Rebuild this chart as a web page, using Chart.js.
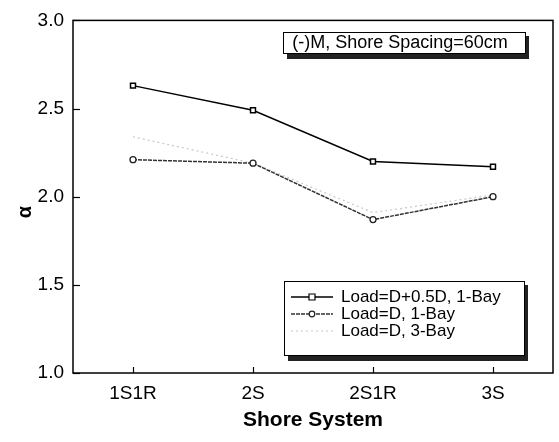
<!DOCTYPE html>
<html>
<head>
<meta charset="utf-8">
<script src="https://cdn.jsdelivr.net/npm/chart.js@4/dist/chart.umd.min.js"></script>
<style>
  html, body { margin: 0; padding: 0; background: #fff; }
  #wrap { width: 559px; height: 442px; }
</style>
</head>
<body>
<div id="wrap"><canvas id="alphaChart"></canvas></div>
<script>
// shore systems on the x axis, alpha values per load case
const shoreSystems = ["1S1R", "2S", "2S1R", "3S"];
const loadD05D1Bay = [2.63, 2.49, 2.20, 2.17];
const loadD1Bay = [2.21, 2.19, 1.87, 2.00];
const loadD3Bay = [2.34, 2.19, 1.91, 2.01];
const yTicks = [1.0, 1.5, 2.0, 2.5, 3.0];
const seriesLabels = ["Load=D+0.5D, 1-Bay", "Load=D, 1-Bay", "Load=D, 3-Bay"];
const noteText = "(-)M, Shore Spacing=60cm";

const FONT = "'Liberation Sans', Arial, sans-serif";

// frame, inward ticks, alpha label, note box and legend box
const decorPlugin = {
  id: "decor",
  afterDraw(chart) {
    const ctx = chart.ctx;
    const a = chart.chartArea;
    const xs = chart.scales.x, ys = chart.scales.y;
    ctx.save();
    ctx.strokeStyle = "#000";
    ctx.lineWidth = 1.5;
    ctx.strokeRect(a.left, a.top, a.right - a.left, a.bottom - a.top);

    ctx.lineWidth = 1.2;
    yTicks.forEach(v => {
      const y = Math.round(ys.getPixelForValue(v)) + 0.5;
      ctx.beginPath(); ctx.moveTo(a.left, y); ctx.lineTo(a.left + 7, y); ctx.stroke();
    });
    shoreSystems.forEach((s, i) => {
      const x = Math.round(xs.getPixelForValue(i)) + 0.5;
      ctx.beginPath(); ctx.moveTo(x, a.bottom); ctx.lineTo(x, a.bottom - 6); ctx.stroke();
    });

    // y axis symbol
    ctx.save();
    ctx.translate(25, 212);
    ctx.rotate(-Math.PI / 2);
    ctx.fillStyle = "#000";
    ctx.font = "bold 20px " + FONT;
    ctx.textAlign = "center";
    ctx.textBaseline = "middle";
    ctx.fillText("α", 0, 0);
    ctx.restore();

    // note box with drop shadow
    drawBox(ctx, 283, 32, 242, 21);
    ctx.fillStyle = "#000";
    ctx.font = "18px " + FONT;
    ctx.textAlign = "center";
    ctx.textBaseline = "middle";
    ctx.fillText(noteText, 400, 43);

    // legend box
    drawBox(ctx, 284, 281, 240, 74);
    const rows = [297, 314, 331];
    chart.data.datasets.forEach((ds, i) => {
      const y = rows[i];
      ctx.strokeStyle = ds.borderColor;
      ctx.lineWidth = ds.borderWidth;
      ctx.setLineDash(ds.borderDash || []);
      ctx.beginPath(); ctx.moveTo(291, y); ctx.lineTo(333, y); ctx.stroke();
      ctx.setLineDash([]);
      if (ds.pointRadius > 0) {
        ctx.fillStyle = "#fff";
        ctx.strokeStyle = ds.pointBorderColor;
        ctx.lineWidth = 1.2;
        ctx.beginPath();
        if (ds.pointStyle === "rect") ctx.rect(309, y - 3, 6, 6);
        else ctx.arc(312, y, 2.8, 0, Math.PI * 2);
        ctx.fill(); ctx.stroke();
      }
      ctx.fillStyle = "#000";
      ctx.font = "17px " + FONT;
      ctx.textAlign = "left";
      ctx.textBaseline = "middle";
      ctx.fillText(ds.label, 341, y);
    });
    ctx.restore();
  }
};

function drawBox(ctx, x, y, w, h) {
  ctx.fillStyle = "#222";
  ctx.fillRect(x + 4, y + 4, w, h + 2);
  ctx.fillStyle = "#fff";
  ctx.fillRect(x, y, w, h);
  ctx.strokeStyle = "#000";
  ctx.lineWidth = 1;
  ctx.strokeRect(x + 0.5, y + 0.5, w, h);
}

new Chart(document.getElementById("alphaChart"), {
  type: "line",
  data: {
    labels: shoreSystems,
    datasets: [
      {
        label: seriesLabels[0],
        data: loadD05D1Bay,
        borderColor: "#000",
        borderWidth: 1.5,
        pointStyle: "rect",
        pointRadius: 3.5,
        pointBorderWidth: 1.5,
        pointBorderColor: "#000",
        pointBackgroundColor: "#fff"
      },
      {
        label: seriesLabels[1],
        data: loadD1Bay,
        borderColor: "#333",
        borderWidth: 1.5,
        borderDash: [4, 1],
        pointStyle: "circle",
        pointRadius: 3,
        pointBorderWidth: 1.3,
        pointBorderColor: "#222",
        pointBackgroundColor: "#fff"
      },
      {
        label: seriesLabels[2],
        data: loadD3Bay,
        borderColor: "#c8c8c8",
        borderWidth: 1.2,
        borderDash: [2, 3],
        pointRadius: 0
      }
    ]
  },
  plugins: [decorPlugin],
  options: {
    responsive: true,
    maintainAspectRatio: false,
    animation: false,
    layout: { padding: { top: 17, right: 6, left: 0, bottom: 0 } },
    plugins: { legend: { display: false }, tooltip: { enabled: false } },
    scales: {
      x: {
        offset: true,
        grid: { display: false, drawTicks: false },
        border: { display: false },
        ticks: { color: "#000", font: { family: FONT, size: 19 }, padding: 9 },
        title: {
          display: true, text: "Shore System", color: "#000",
          font: { family: FONT, size: 21, weight: "bold" }, padding: { top: 0, bottom: 9 }
        },
        afterFit(scale) { scale.height = 69; }
      },
      y: {
        min: 1.0, max: 3.0,
        grid: { display: false, drawTicks: false },
        border: { display: false },
        afterBuildTicks(scale) { scale.ticks = yTicks.map(v => ({ value: v })); },
        ticks: {
          color: "#000", font: { family: FONT, size: 19 }, padding: 9,
          callback: v => v.toFixed(1)
        },
        afterFit(scale) { scale.width = 73; }
      }
    }
  }
});
</script>
</body>
</html>
